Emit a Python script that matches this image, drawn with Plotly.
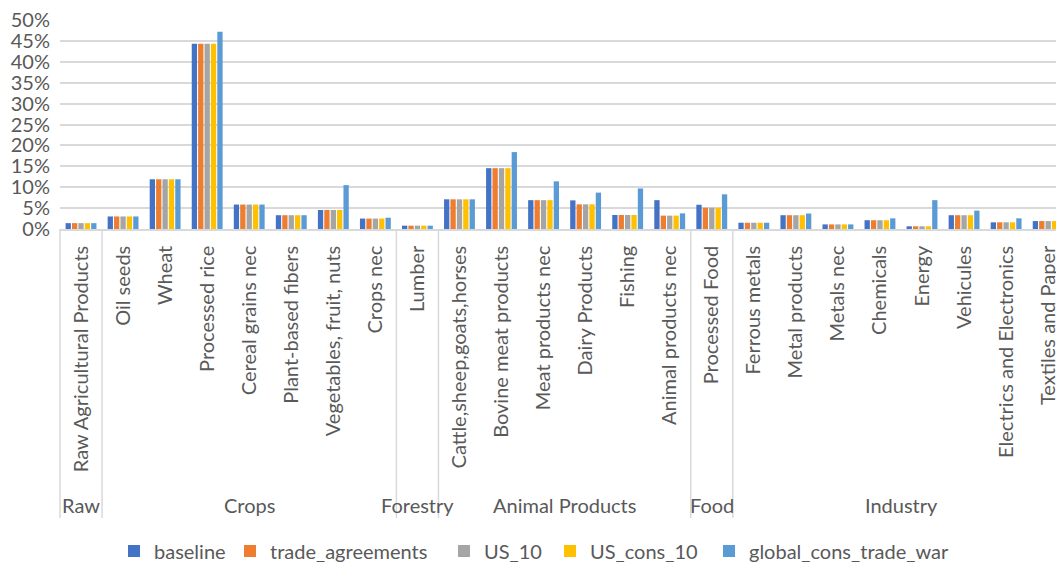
import plotly.graph_objects as go

# Sector categories (x axis) and the group each belongs to
categories = [
    "Raw Agricultural Products", "Oil seeds", "Wheat", "Processed rice",
    "Cereal grains nec", "Plant-based fibers", "Vegetables, fruit, nuts",
    "Crops nec", "Lumber", "Cattle,sheep,goats,horses", "Bovine meat products",
    "Meat products nec", "Dairy Products", "Fishing", "Animal products nec",
    "Processed Food", "Ferrous metals", "Metal products", "Metals nec",
    "Chemicals", "Energy", "Vehicules", "Electrics and Electronics",
    "Textiles and Paper",
]
group_names = ["Raw", "Crops", "Forestry", "Animal Products", "Food", "Industry"]
group_sizes = [1, 7, 1, 6, 1, 8]

# Scenario values, in percent
baseline = [1.4, 3.0, 11.9, 44.3, 5.85, 3.3, 4.55, 2.5, 0.8, 7.1, 14.55, 6.9,
            6.85, 3.35, 6.9, 5.8, 1.5, 3.3, 1.1, 2.1, 0.65, 3.3, 1.6, 1.9]
trade_agreements = [1.4, 3.0, 11.9, 44.3, 5.85, 3.3, 4.55, 2.5, 0.8, 7.1, 14.55, 6.9,
                    5.9, 3.35, 3.2, 5.1, 1.5, 3.3, 1.1, 2.1, 0.65, 3.3, 1.6, 1.9]
us_10 = [1.4, 3.0, 11.9, 44.3, 5.85, 3.3, 4.55, 2.5, 0.8, 7.1, 14.55, 6.9,
         5.9, 3.35, 3.2, 5.1, 1.5, 3.3, 1.1, 2.1, 0.65, 3.3, 1.6, 1.9]
us_cons_10 = [1.4, 3.0, 11.9, 44.3, 5.85, 3.3, 4.55, 2.5, 0.8, 7.1, 14.55, 6.9,
              5.9, 3.35, 3.2, 5.1, 1.5, 3.3, 1.1, 2.1, 0.65, 3.3, 1.6, 1.9]
global_cons_trade_war = [1.4, 3.0, 11.9, 47.2, 5.85, 3.3, 10.5, 2.7, 0.8, 7.1, 18.4, 11.4,
                         8.7, 9.7, 3.75, 8.3, 1.5, 3.7, 1.1, 2.55, 6.9, 4.4, 2.55, 2.0]

series = [
    ("baseline", baseline, "#4472C4"),
    ("trade_agreements", trade_agreements, "#ED7D31"),
    ("US_10", us_10, "#A5A5A5"),
    ("US_cons_10", us_cons_10, "#FFC000"),
    ("global_cons_trade_war", global_cons_trade_war, "#5B9BD5"),
]

FONT = "Lato"
TXT = "#595959"
GRID = "#D9D9D9"

W, H = 1056, 562
ML, MT, MB = 60, 20, 333
PLOT_W = W - ML
PLOT_H = H - MT - MB


def py(px):
    """Pixel row (from top) -> paper y."""
    return (H - MB - px) / PLOT_H


def px_x(px):
    """Pixel column (from left) -> paper x."""
    return (px - ML) / PLOT_W


x_idx = list(range(len(categories)))

# One legend per series so each key sits at its own spot along the bottom row
legend_left_px = [114, 230, 444, 550, 709]

fig = go.Figure()
legend_layout = {}
for i, ((name, vals, color), lx) in enumerate(zip(series, legend_left_px)):
    key = "legend" if i == 0 else f"legend{i + 1}"
    fig.add_trace(go.Bar(
        x=x_idx, y=[v / 100 for v in vals], name=name, legend=key,
        marker=dict(color=color, line=dict(width=0)),
    ))
    legend_layout[key] = dict(
        orientation="h", x=px_x(lx), y=py(551), xanchor="left", yanchor="middle",
        font=dict(family=FONT, size=20, color=TXT), bgcolor="rgba(0,0,0,0)",
    )

# Group dividers and group labels under the category labels
shapes = []
annotations = []
start = 0
bounds = [-0.5]
for gname, size in zip(group_names, group_sizes):
    center = start + (size - 1) / 2
    annotations.append(dict(
        x=center, y=py(505), xref="x", yref="paper", text=gname,
        showarrow=False, font=dict(family=FONT, size=20, color=TXT),
        xanchor="center", yanchor="middle",
    ))
    start += size
    bounds.append(start - 0.5)

for b in bounds:
    if b == -0.5:
        shapes.append(dict(type="line", xref="paper", yref="paper", x0=0, x1=0,
                           y0=0, y1=py(518), line=dict(color=GRID, width=1.5)))
    else:
        shapes.append(dict(type="line", xref="x", yref="paper", x0=b, x1=b,
                           y0=0, y1=py(518), line=dict(color=GRID, width=1.5)))

fig.update_layout(
    width=W, height=H,
    margin=dict(l=ML, r=0, t=MT, b=MB, pad=0, autoexpand=False),
    paper_bgcolor="white", plot_bgcolor="white",
    barmode="group", bargap=0.24, bargroupgap=0.17,
    font=dict(family=FONT, size=20, color=TXT),
    showlegend=True,
    shapes=shapes, annotations=annotations,
    **legend_layout,
)

fig.update_xaxes(
    tickmode="array", tickvals=x_idx, ticktext=categories, tickangle=-90,
    range=[-0.5, -0.5 + PLOT_W / 42.05], automargin=False,
    showgrid=False, zeroline=False, showline=True, linecolor=GRID, linewidth=1.5,
    ticks="", ticklabelstandoff=7, ticklabeloverflow="allow",
    tickfont=dict(family=FONT, size=20, color=TXT),
)
fig.update_yaxes(
    range=[0, 0.5], dtick=0.05, tickformat=".0%", automargin=False,
    showgrid=True, gridcolor=GRID, gridwidth=1.5, zeroline=False, showline=False,
    ticks="", ticklabelstandoff=9,
    tickfont=dict(family=FONT, size=20, color=TXT),
)

fig.write_html("out.html")
